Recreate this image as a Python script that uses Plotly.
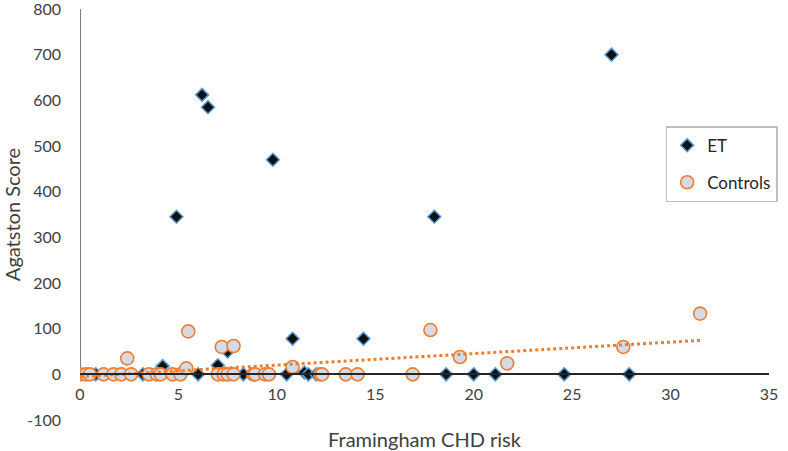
import numpy as np
import plotly.graph_objects as go

# ---- data ----
et_x = [0.8, 3.2, 4.2, 4.9, 6.0, 6.2, 6.5, 7.0, 7.5, 8.3, 9.8, 10.5, 10.8, 11.4,
        11.6, 12.0, 14.4, 18.0, 18.6, 20.0, 21.1, 24.6, 27.0, 27.9]
et_y = [0, 0, 18, 345, 0, 612, 585, 20, 50, 0, 470, 0, 78, 4,
        0, 0, 78, 345, 0, 0, 0, 0, 700, 0]

ctrl_x = [0.0, 0.3, 0.5, 1.2, 1.7, 2.1, 2.4, 2.6, 3.5, 3.9, 4.1, 4.7, 5.1, 5.4,
          5.5, 7.0, 7.2, 7.3, 7.5, 7.8, 7.8, 8.8, 8.9, 9.4, 9.6, 10.8, 12.2,
          12.3, 13.5, 14.1, 16.9, 17.8, 19.3, 21.7, 27.6, 31.5]
ctrl_y = [0, 0, 0, 0, 0, 0, 35, 0, 0, 0, 0, 0, 0, 13,
          94, 0, 60, 0, 0, 62, 0, 0, 0, 0, 0, 16, 0,
          0, 0, 0, 0, 97, 38, 24, 60, 133]

x_ticks = [0, 5, 10, 15, 20, 25, 30, 35]
y_ticks = [-100, 0, 100, 200, 300, 400, 500, 600, 700, 800]
y_tick_text = ["-100", "0", "100", "200", "300", "400", "500", "600", "700", "800"]

# linear trendline for Controls
slope, intercept = np.polyfit(ctrl_x, ctrl_y, 1)
tx = np.array([min(ctrl_x), max(ctrl_x)])
ty = slope * tx + intercept

FONT = "Lato"
TXT = "#404040"

fig = go.Figure()
fig.add_trace(go.Scatter(
    x=et_x, y=et_y, mode="markers", name="ET", legendgroup="a",
    marker=dict(symbol="diamond", size=10, color="#111111",
                line=dict(color="#5B9BD5", width=1.5)),
))
fig.add_trace(go.Scatter(
    x=ctrl_x, y=ctrl_y, mode="markers", name="Controls", legendgroup="b",
    marker=dict(symbol="circle", size=13, color="#D6DAE5",
                line=dict(color="#ED7D31", width=1.6)),
))
fig.add_trace(go.Scatter(
    x=tx, y=ty, mode="lines", showlegend=False,
    line=dict(color="#ED7D31", width=3, dash="dot"),
))

fig.add_shape(type="line", xref="x", yref="y", x0=0, x1=0, y0=0, y1=800,
              line=dict(color="#262626", width=1.2), layer="below")

fig.update_layout(
    width=788, height=451,
    margin=dict(l=80, r=19, t=9, b=31),
    paper_bgcolor="white", plot_bgcolor="white",
    font=dict(family=FONT, color=TXT, size=16),
    legend=dict(x=0.85, y=0.715, xanchor="left", yanchor="top",
                bordercolor="#BFBFBF", borderwidth=1.5, bgcolor="white",
                font=dict(size=17, color="#262626"), tracegroupgap=12,
                itemwidth=30),
    xaxis=dict(range=[0, 35], tickvals=x_ticks, showgrid=False, zeroline=False,
               anchor="free", position=100 / 900, showline=True,
               linecolor="#262626", linewidth=1.5, ticks="",
               ticklabelstandoff=6, automargin=False, ticklabeloverflow="allow",
               title=dict(text="Framingham CHD risk", standoff=30,
                          font=dict(size=20, color=TXT))),
    yaxis=dict(range=[-100, 800], tickvals=y_ticks, ticktext=y_tick_text,
               showgrid=False, zeroline=False, showline=False, ticks="",
               ticklabelstandoff=18, automargin=False, ticklabeloverflow="allow",
               title=dict(text="Agatston Score", standoff=2,
                          font=dict(size=20, color=TXT))),
)

fig.write_html("out.html", config={"displayModeBar": False},
               post_script="document.body.style.margin='0';document.body.style.overflow='hidden';")
